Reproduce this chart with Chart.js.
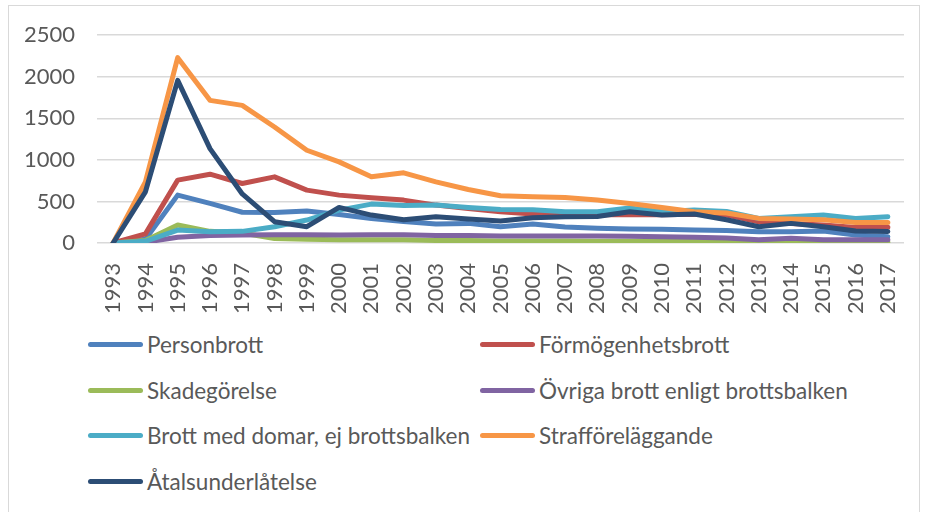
<!DOCTYPE html>
<html lang="sv">
<head>
    <meta charset="UTF-8">
    <title>Brottstyper 1993-2017</title>
    <script src="https://cdn.jsdelivr.net/npm/chart.js"></script>
    <style>
        body { margin: 0; background: #fff; font-family: Lato, "Open Sans", sans-serif; }
        .frame { position: absolute; left: 8px; top: 5px; width: 910px; height: 520px; border: 1px solid #d9d9d9; }
        .chart-box { position: absolute; left: 0; top: 0; width: 928px; height: 320px; }
        #legend { position: absolute; left: 88px; top: 322px; display: grid; grid-template-columns: 392px auto; grid-auto-rows: 45.5px; }
        .item { display: flex; align-items: center; color: #595959; font-size: 22.5px; }
        .swatch { width: 55px; height: 5px; border-radius: 3px; margin-right: 4px; }
    </style>
</head>
<body>
    <div class="frame"></div>
    <div class="chart-box"><canvas id="chart"></canvas></div>
    <div id="legend"></div>
    <script>
        const years = ['1993', '1994', '1995', '1996', '1997', '1998', '1999', '2000', '2001', '2002', '2003', '2004', '2005',
                       '2006', '2007', '2008', '2009', '2010', '2011', '2012', '2013', '2014', '2015', '2016', '2017'];

        const personbrott = [0, 45, 576, 476, 370, 368, 384, 344, 296, 260, 228, 236, 196, 228, 192, 176, 168, 164, 156, 150, 136, 136, 144, 96, 76];
        const formogenhetsbrott = [0, 110, 756, 828, 716, 796, 636, 576, 544, 516, 456, 416, 376, 348, 345, 340, 340, 340, 345, 336, 256, 236, 216, 188, 188];
        const skadegorelse = [0, 30, 216, 140, 120, 55, 45, 40, 40, 40, 30, 30, 25, 25, 25, 20, 20, 20, 20, 15, 15, 15, 10, 10, 10];
        const ovriga = [0, 10, 70, 90, 95, 100, 100, 95, 100, 100, 90, 90, 85, 85, 84, 84, 80, 75, 70, 60, 40, 56, 40, 40, 40];
        const domarEjBalken = [0, 20, 156, 136, 140, 196, 276, 396, 468, 450, 456, 428, 404, 400, 376, 376, 420, 376, 396, 380, 296, 316, 336, 296, 316];
        const strafforelaggande = [0, 736, 2230, 1716, 1656, 1396, 1116, 976, 796, 844, 736, 644, 568, 556, 548, 516, 476, 428, 376, 360, 296, 288, 280, 248, 248];
        const atalsunderlatelse = [0, 616, 1956, 1136, 590, 256, 196, 428, 336, 280, 316, 288, 264, 304, 316, 320, 376, 336, 348, 280, 196, 236, 196, 144, 138];

        const yTicks = [0, 500, 1000, 1500, 2000, 2500];

        const series = [
            ['Personbrott', personbrott, '#4f81bd'],
            ['Förmögenhetsbrott', formogenhetsbrott, '#c0504d'],
            ['Skadegörelse', skadegorelse, '#9bbb59'],
            ['Övriga brott enligt brottsbalken', ovriga, '#8064a2'],
            ['Brott med domar, ej brottsbalken', domarEjBalken, '#4bacc6'],
            ['Strafföreläggande', strafforelaggande, '#f79646'],
            ['Åtalsunderlåtelse', atalsunderlatelse, '#2c4d75']
        ];

        const font = { family: 'Lato', size: 22 };

        const chart = new Chart(document.getElementById('chart'), {
            type: 'line',
            data: {
                labels: years,
                datasets: series.map(([label, data, color], i) => ({
                    label: label,
                    data: data,
                    borderColor: color,
                    backgroundColor: color,
                    borderWidth: 5,
                    borderJoinStyle: 'round',
                    borderCapStyle: 'round',
                    pointRadius: 0,
                    tension: 0,
                    order: series.length - i   // later series on top, like Excel
                }))
            },
            options: {
                responsive: true,
                maintainAspectRatio: false,
                animation: false,
                layout: { padding: { left: 8, right: 24, top: 35, bottom: 0 } },
                plugins: { legend: { display: false }, tooltip: { enabled: false } },
                scales: {
                    x: {
                        offset: true,
                        grid: { display: false },
                        border: { display: false },
                        ticks: { color: '#595959', font: font, minRotation: 90, maxRotation: 90, autoSkip: false, padding: 12 },
                        afterFit: scale => { scale.height = 77; }
                    },
                    y: {
                        min: 0,
                        max: 2500,
                        afterBuildTicks: scale => { scale.ticks = yTicks.map(v => ({ value: v })); },
                        grid: { color: '#d9d9d9', lineWidth: 1.5, drawTicks: false },
                        border: { display: false },
                        ticks: { color: '#595959', font: font, padding: 22, callback: v => String(v) },
                        afterFit: scale => { scale.width = 89; }
                    }
                }
            }
        });

        // two-column legend, built from the chart's datasets
        const legend = document.getElementById('legend');
        chart.data.datasets.forEach(ds => {
            const item = document.createElement('div');
            item.className = 'item';
            item.innerHTML = `<span class="swatch" style="background:${ds.borderColor}"></span><span>${ds.label}</span>`;
            legend.appendChild(item);
        });
    </script>
</body>
</html>
